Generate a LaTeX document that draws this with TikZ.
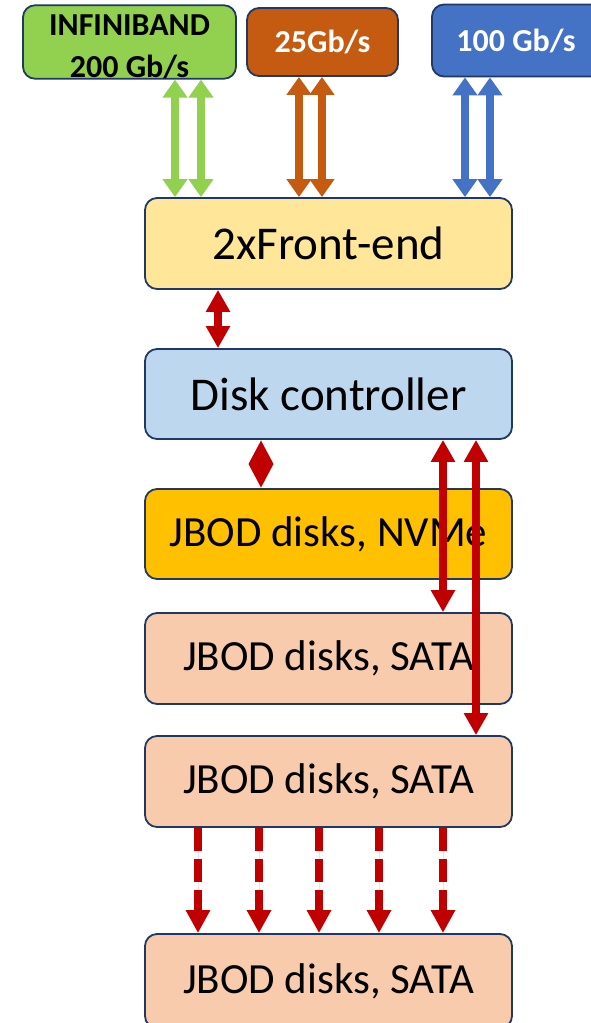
\documentclass[tikz,border=0pt]{standalone}
\usepackage{fontspec}
\setmainfont{Carlito}
\usetikzlibrary{arrows.meta}

\definecolor{boxline}{HTML}{1F3864}
\definecolor{ibgreen}{HTML}{92D050}
\definecolor{rust}{HTML}{C55A11}
\definecolor{netblue}{HTML}{4472C4}
\definecolor{feyellow}{HTML}{FFE699}
\definecolor{dcblue}{HTML}{BDD7EE}
\definecolor{nvgold}{HTML}{FFC000}
\definecolor{satapeach}{HTML}{F8CBAD}
\definecolor{linkred}{HTML}{C00000}

\tikzset{
  blk/.style={draw=boxline, line width=1.8pt, rounded corners=12pt, inner sep=0pt},
  stage/.style={blk, minimum width=367pt, minimum height=91pt},
  bigtext/.style={font=\fontsize{47pt}{56pt}\selectfont},
  disktext/.style={font=\fontsize{43pt}{51pt}\selectfont},
  nettext/.style={font=\fontsize{32pt}{42pt}\selectfont\bfseries},
  netlink/.style={line width=8pt, {Triangle[width=24pt,length=18pt]}-{Triangle[width=24pt,length=18pt]}},
  redlink/.style={line width=8pt, draw=linkred, {Triangle[width=23pt,length=22pt]}-{Triangle[width=23pt,length=22pt]}},
  shortlink/.style={line width=8pt, draw=linkred, {Triangle[width=23pt,length=24pt]}-{Triangle[width=23pt,length=24pt]}},
  fanout/.style={line width=8pt, draw=linkred, dash pattern=on 23pt off 8pt, -{Triangle[width=23pt,length=23pt]}}
}

\begin{document}
\begin{tikzpicture}[x=1pt, y=-1pt]
\useasboundingbox (0,0) rectangle (591,1023);
\clip (0,0) rectangle (591,1023);

% network uplinks
\node[blk, fill=ibgreen, minimum width=213pt, minimum height=70pt, nettext, text=black, align=center]
  (ib) at (129.5,42) {\rule{0pt}{30pt}INFINIBAND\\200 Gb/s};
\node[blk, fill=rust, minimum width=151pt, minimum height=68pt, nettext, text=white]
  (e25) at (322.5,42) {25Gb/s};
\node[blk, fill=netblue, minimum width=180pt, minimum height=72pt, nettext, text=white]
  (e100) at (522,40.5) {100 Gb/s\kern12pt};

% storage stack
\node[stage, fill=feyellow, bigtext] (fe) at (328.5,243.5) {2xFront-end};
\node[stage, fill=dcblue, bigtext, minimum height=90pt] (dc) at (328.5,394) {Disk controller};
\node[stage, fill=nvgold, disktext, minimum height=90pt] (nv) at (328.5,534) {JBOD disks, NVMe};
\node[stage, fill=satapeach, disktext] (s1) at (328.5,658.5) {JBOD disks, SATA};
\node[stage, fill=satapeach, disktext] (s2) at (328.5,781.5) {JBOD disks, SATA};
\node[stage, fill=satapeach, disktext, minimum height=94pt] (s3) at (328.5,981) {JBOD disks, SATA};

% columns for the connectors
\coordinate (g1) at (175,0);  \coordinate (g2) at (201,0);
\coordinate (r1) at (299,0);  \coordinate (r2) at (322,0);
\coordinate (b1) at (465,0);  \coordinate (b2) at (490,0);
\coordinate (c1) at (218,0);  \coordinate (c2) at (261,0);
\coordinate (c3) at (443,0);  \coordinate (c4) at (476,0);
\coordinate (f1) at (198,0);  \coordinate (f2) at (259,0);
\coordinate (f3) at (319,0);  \coordinate (f4) at (379,0);
\coordinate (f5) at (443,0);

% uplinks to the front-end
\draw[netlink, draw=ibgreen, fill=ibgreen] (ib.south -| g1) -- (fe.north -| g1);
\draw[netlink, draw=ibgreen, fill=ibgreen] (ib.south -| g2) -- (fe.north -| g2);
\draw[netlink, draw=rust, fill=rust] (e25.south -| r1) -- (fe.north -| r1);
\draw[netlink, draw=rust, fill=rust] (e25.south -| r2) -- (fe.north -| r2);
\draw[netlink, draw=netblue, fill=netblue] (e100.south -| b1) -- (fe.north -| b1);
\draw[netlink, draw=netblue, fill=netblue] (e100.south -| b2) -- (fe.north -| b2);

% internal links
\draw[redlink, fill=linkred] (fe.south -| c1) -- (dc.north -| c1);
\draw[shortlink, fill=linkred] (dc.south -| c2) -- (nv.north -| c2);
\draw[redlink, fill=linkred] (dc.south -| c3) -- (s1.north -| c3);
\draw[redlink, fill=linkred] (dc.south -| c4) -- (s2.north -| c4);

% daisy-chain fan-out
\foreach \c in {f1,f2,f3,f4,f5}
  \draw[fanout, fill=linkred] (s2.south -| \c) -- (s3.north -| \c);
\end{tikzpicture}
\end{document}
